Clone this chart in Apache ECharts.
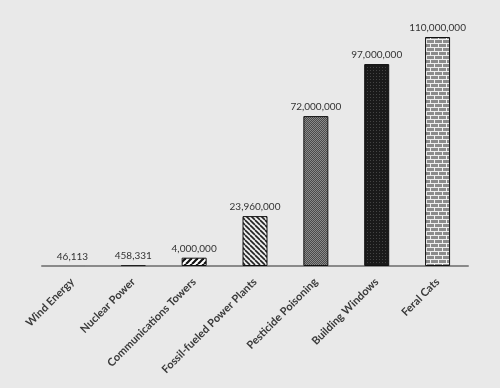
<!DOCTYPE html>
<html><head><meta charset="utf-8">
<script src="https://cdn.jsdelivr.net/npm/echarts@6/dist/echarts.min.js"></script>
<style>html,body{margin:0;padding:0;background:#e9e9e9;}#c{width:500px;height:388px;}</style>
</head><body><div id="c"></div>
<script>
const categories = ['Wind Energy','Nuclear Power','Communications Towers','Fossil-fueled Power Plants','Pesticide Poisoning','Building Windows','Feral Cats'];
const values = [46113, 458331, 4000000, 23960000, 72000000, 97000000, 110000000];

function pat(w, h, draw) {
  const c = document.createElement('canvas'); c.width = w; c.height = h;
  const g = c.getContext('2d'); draw(g, w, h);
  return { image: c, repeat: 'repeat' };
}
const patterns = [
  '#888',
  '#333',
  pat(6, 6, (g) => { g.fillStyle = '#fff'; g.fillRect(0,0,6,6); g.strokeStyle = '#111'; g.lineWidth = 2.2;
    for (let k = -1; k <= 1; k++) { g.beginPath(); g.moveTo(k*6, 6); g.lineTo(k*6+6, 0); g.stroke(); } }),
  pat(5, 5, (g) => { g.fillStyle = '#eee'; g.fillRect(0,0,5,5); g.strokeStyle = '#222'; g.lineWidth = 1.6;
    for (let k = -1; k <= 1; k++) { g.beginPath(); g.moveTo(k*5, 0); g.lineTo(k*5+5, 5); g.stroke(); } }),
  pat(2, 2, (g) => { g.fillStyle = '#4a4a4a'; g.fillRect(0,0,2,2); g.fillStyle = '#8a8a8a'; g.fillRect(0,0,1,1); g.fillRect(1,1,1,1); }),
  pat(3, 3, (g) => { g.fillStyle = '#1a1a1a'; g.fillRect(0,0,3,3); g.fillStyle = '#444'; g.fillRect(1,1,1,1); }),
  pat(8, 8, (g) => { g.fillStyle = '#8c8c8c'; g.fillRect(0,0,8,8); g.fillStyle = '#f0f0f0';
    g.fillRect(0,3,8,1); g.fillRect(0,7,8,1); g.fillRect(2,0,1,3); g.fillRect(6,4,1,3); })
];
const borders = ['#888', '#222', '#111', '#111', '#111', '#111', '#111'];

const chart = echarts.init(document.getElementById('c'), null, {renderer: 'canvas'});
chart.setOption({
  backgroundColor: '#e9e9e9',
  animation: false,
  grid: { left: 42, right: 32, top: 37, bottom: 122 },
  xAxis: {
    type: 'category', data: categories,
    axisLine: { lineStyle: { color: '#8a8a8a', width: 2 } },
    axisTick: { show: false },
    axisLabel: { rotate: 45, interval: 0, margin: 14, color: '#3a3a3a', fontFamily: 'Lato', fontSize: 11, fontWeight: 'bold' }
  },
  yAxis: { type: 'value', min: 0, max: 110000000, show: false, splitLine: { show: false } },
  series: [{
    type: 'bar', barWidth: 25,
    data: values.map((v, i) => ({ value: v, itemStyle: { color: patterns[i], borderColor: borders[i], borderWidth: 1 } })),
    label: { show: true, position: 'top', distance: 4, color: '#333', fontFamily: 'Lato', fontSize: 10,
      formatter: (p) => p.value.toLocaleString('en-US') }
  }]
});
</script></body></html>
